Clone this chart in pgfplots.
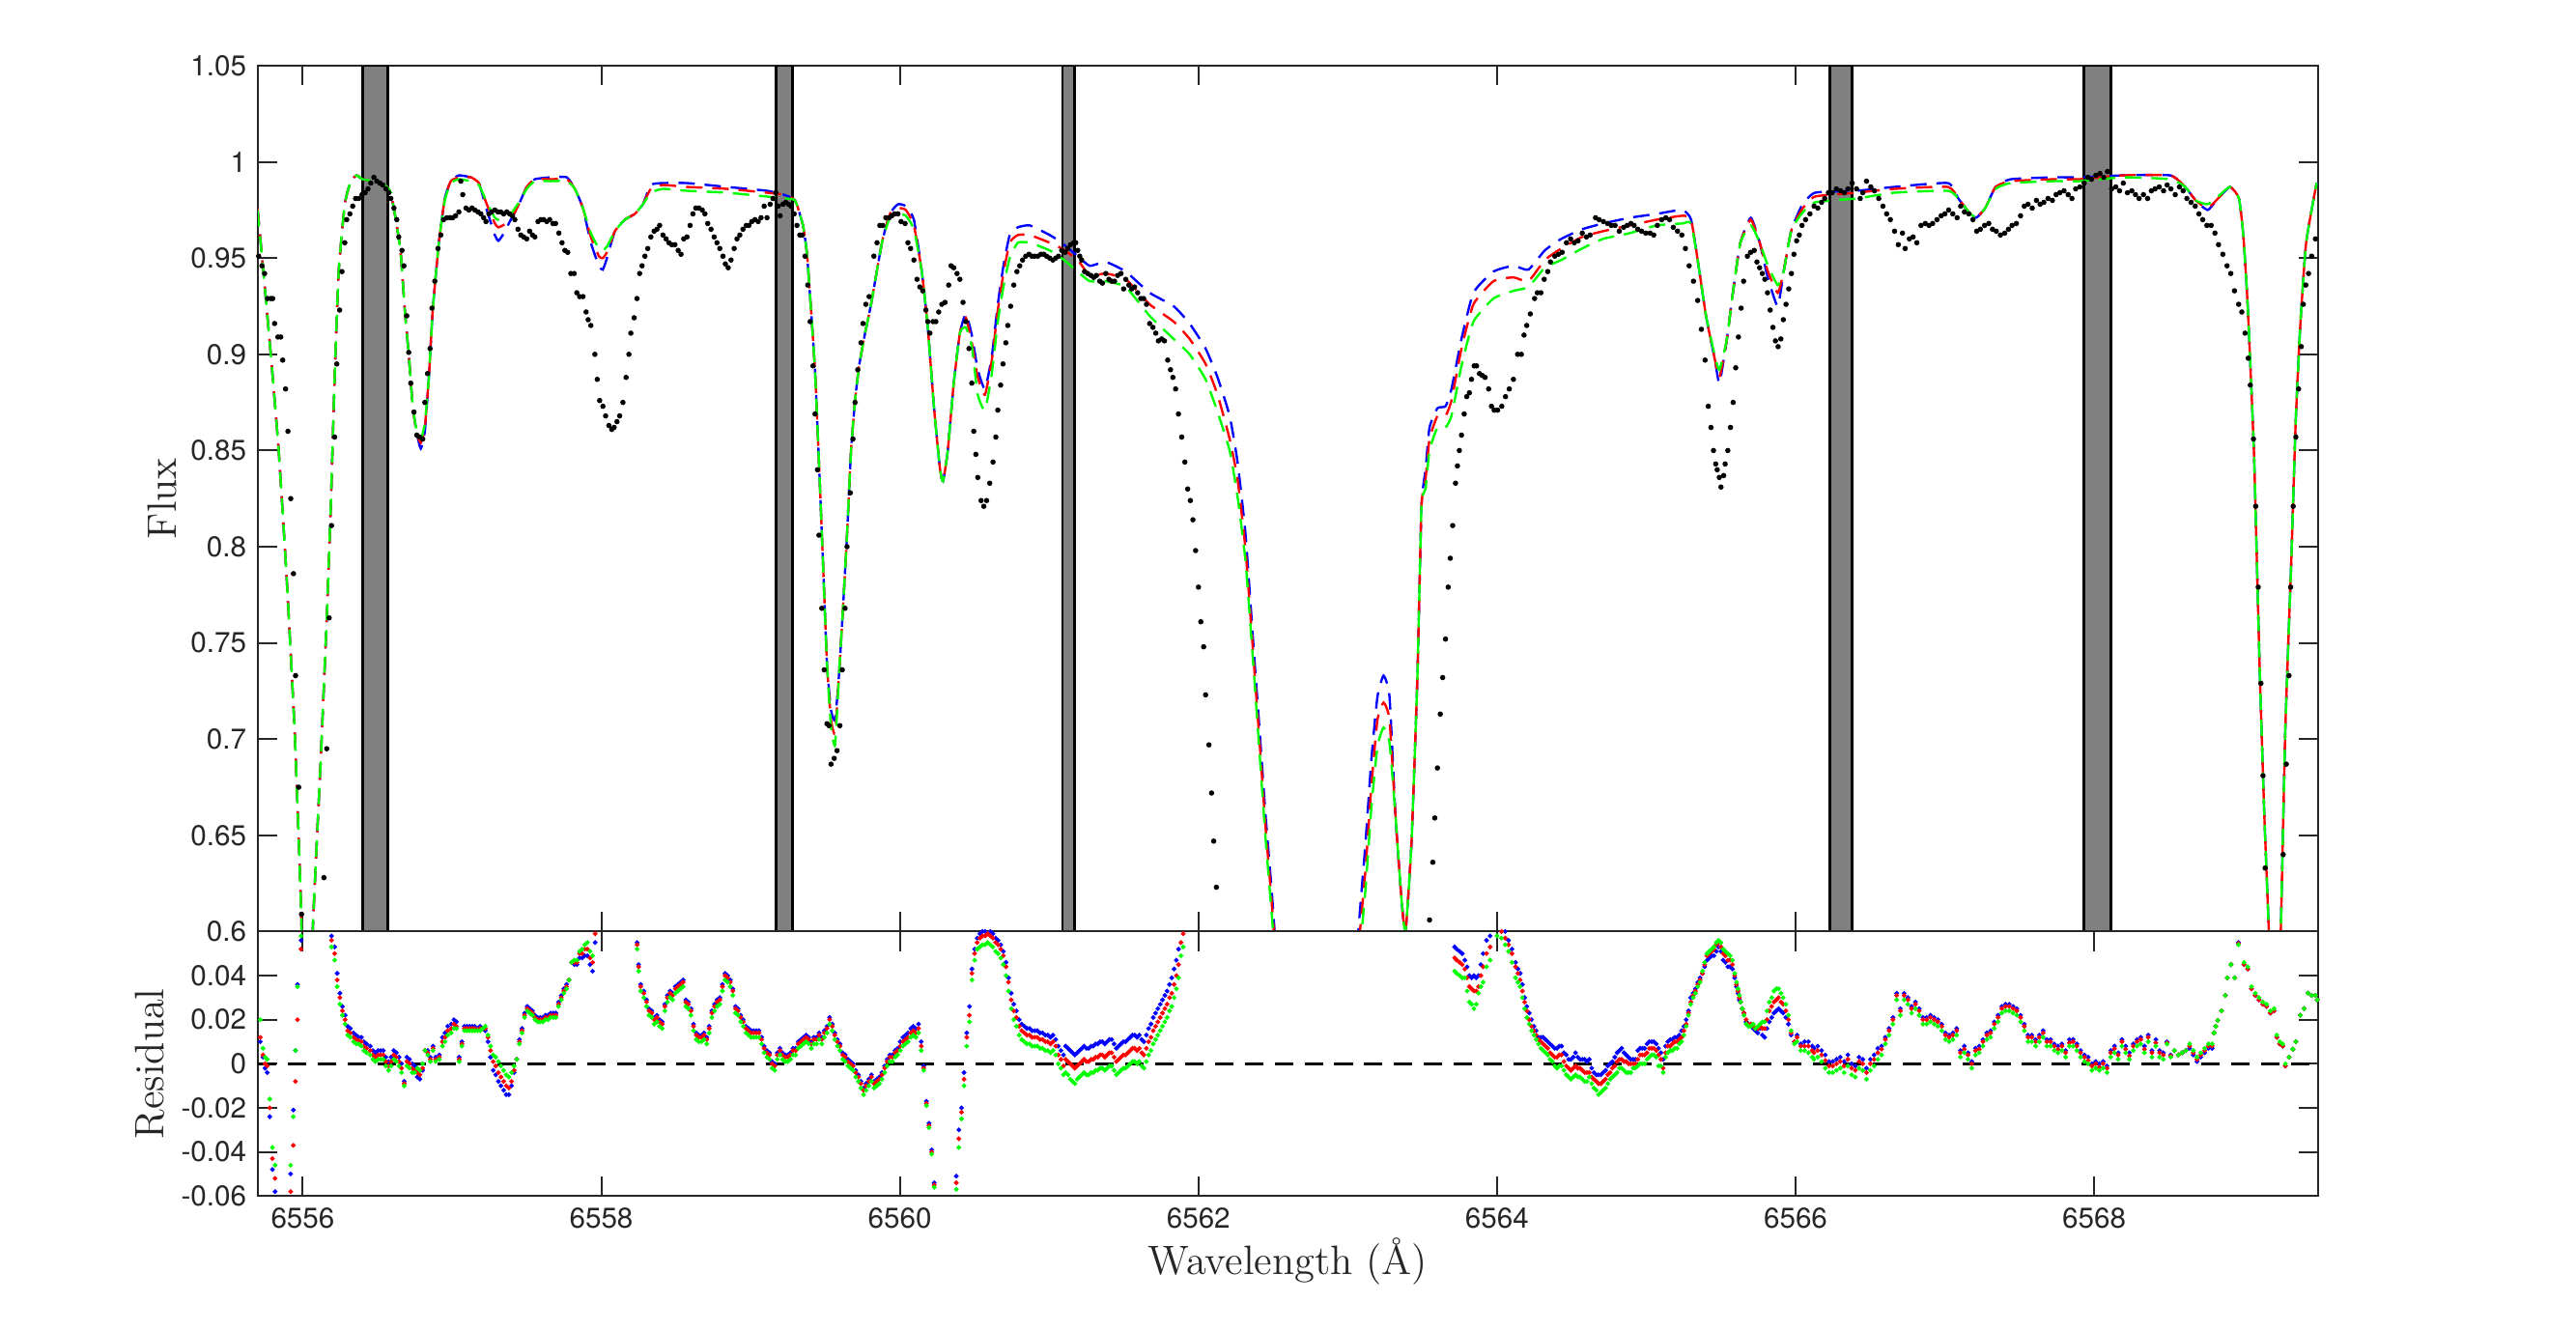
\documentclass[border=0pt]{standalone}
\usepackage{fontspec}
\newfontfamily\helv{TeX Gyre Heros}
\usepackage{pgfplots}
\usepackage{pgfplotstable}
\pgfplotsset{compat=1.18}
\definecolor{axgray}{rgb}{0.15,0.15,0.15}
\definecolor{bandgray}{rgb}{0.5,0.5,0.5}
\definecolor{mgreen}{rgb}{0,1,0}
\definecolor{mblue}{rgb}{0,0,1}
\definecolor{mred}{rgb}{1,0,0}

\pgfplotstableread{
x b r g
6555.697 0.976 0.976 0.975
6555.740 0.940 0.940 0.940
6555.786 0.900 0.900 0.900
6555.839 0.850 0.850 0.850
6555.893 0.783 0.783 0.783
6555.946 0.704 0.704 0.704
6555.987 0.617 0.617 0.617
6556.030 0.500 0.500 0.500
6556.067 0.600 0.600 0.600
6556.121 0.690 0.690 0.690
6556.161 0.763 0.763 0.763
6556.188 0.821 0.821 0.821
6556.214 0.888 0.888 0.888
6556.241 0.943 0.943 0.943
6556.282 0.978 0.978 0.978
6556.322 0.990 0.990 0.990
6556.362 0.993 0.993 0.993
6556.400 0.991 0.991 0.991
6556.480 0.990 0.990 0.990
6556.550 0.988 0.988 0.988
6556.590 0.984 0.984 0.984
6556.630 0.967 0.967 0.967
6556.657 0.952 0.952 0.952
6556.684 0.923 0.923 0.923
6556.710 0.900 0.900 0.900
6556.737 0.873 0.873 0.873
6556.764 0.859 0.859 0.860
6556.791 0.851 0.854 0.856
6556.818 0.860 0.862 0.864
6556.845 0.888 0.888 0.888
6556.871 0.923 0.923 0.923
6556.912 0.958 0.958 0.958
6556.952 0.981 0.981 0.980
6556.992 0.990 0.990 0.989
6557.046 0.993 0.992 0.991
6557.126 0.992 0.992 0.990
6557.180 0.989 0.989 0.988
6557.233 0.975 0.978 0.979
6557.287 0.962 0.968 0.971
6557.310 0.959 0.966 0.970
6557.340 0.962 0.967 0.971
6557.394 0.970 0.970 0.973
6557.448 0.978 0.978 0.979
6557.501 0.987 0.987 0.986
6557.555 0.991 0.991 0.990
6557.662 0.992 0.991 0.990
6557.769 0.992 0.991 0.990
6557.823 0.986 0.986 0.986
6557.877 0.976 0.976 0.976
6557.930 0.958 0.961 0.963
6557.984 0.946 0.951 0.955
6558.010 0.944 0.950 0.954
6558.038 0.950 0.953 0.956
6558.091 0.964 0.964 0.964
6558.158 0.970 0.970 0.970
6558.225 0.973 0.973 0.973
6558.279 0.978 0.978 0.978
6558.332 0.988 0.986 0.984
6558.413 0.989 0.988 0.986
6558.574 0.989 0.987 0.985
6558.842 0.987 0.986 0.984
6559.110 0.985 0.984 0.982
6559.220 0.983 0.983 0.981
6559.298 0.980 0.980 0.980
6559.351 0.967 0.967 0.967
6559.378 0.952 0.952 0.952
6559.405 0.923 0.923 0.923
6559.432 0.891 0.891 0.891
6559.458 0.844 0.844 0.844
6559.485 0.792 0.792 0.792
6559.512 0.739 0.739 0.739
6559.539 0.715 0.710 0.706
6559.566 0.710 0.703 0.697
6559.592 0.733 0.733 0.733
6559.619 0.768 0.768 0.768
6559.646 0.806 0.806 0.806
6559.673 0.850 0.850 0.850
6559.700 0.876 0.876 0.876
6559.727 0.894 0.894 0.894
6559.767 0.911 0.911 0.911
6559.807 0.926 0.926 0.926
6559.880 0.958 0.958 0.958
6559.933 0.973 0.973 0.971
6559.987 0.978 0.976 0.973
6560.040 0.977 0.975 0.972
6560.094 0.970 0.967 0.965
6560.147 0.943 0.943 0.943
6560.187 0.914 0.914 0.914
6560.228 0.873 0.873 0.873
6560.268 0.841 0.841 0.841
6560.289 0.834 0.834 0.834
6560.321 0.850 0.850 0.850
6560.361 0.885 0.885 0.885
6560.402 0.911 0.911 0.911
6560.442 0.921 0.919 0.914
6560.482 0.910 0.906 0.904
6560.522 0.892 0.888 0.879
6560.570 0.882 0.879 0.871
6560.616 0.899 0.897 0.890
6560.656 0.926 0.923 0.917
6560.696 0.947 0.943 0.936
6560.736 0.962 0.958 0.950
6560.790 0.966 0.962 0.958
6560.870 0.967 0.962 0.958
6561.004 0.962 0.958 0.954
6561.084 0.958 0.955 0.950
6561.191 0.951 0.949 0.943
6561.272 0.946 0.941 0.938
6561.379 0.948 0.942 0.938
6561.513 0.943 0.939 0.935
6561.673 0.932 0.926 0.920
6561.834 0.925 0.917 0.908
6561.941 0.916 0.908 0.900
6562.048 0.903 0.895 0.887
6562.128 0.888 0.879 0.870
6562.209 0.868 0.856 0.850
6562.262 0.844 0.835 0.826
6562.316 0.806 0.798 0.792
6562.369 0.748 0.742 0.737
6562.410 0.704 0.698 0.692
6562.450 0.660 0.654 0.648
6562.490 0.622 0.616 0.610
6562.550 0.560 0.555 0.550
6562.700 0.450 0.450 0.450
6562.900 0.420 0.420 0.420
6563.040 0.560 0.550 0.540
6563.071 0.600 0.590 0.580
6563.119 0.646 0.632 0.622
6563.159 0.690 0.676 0.665
6563.199 0.722 0.710 0.696
6563.240 0.733 0.719 0.706
6563.280 0.722 0.710 0.698
6563.320 0.660 0.660 0.660
6563.360 0.617 0.617 0.617
6563.387 0.600 0.600 0.600
6563.427 0.646 0.646 0.646
6563.467 0.733 0.733 0.733
6563.494 0.821 0.821 0.821
6563.521 0.840 0.835 0.830
6563.548 0.862 0.856 0.850
6563.601 0.872 0.868 0.862
6563.655 0.873 0.868 0.862
6563.695 0.882 0.876 0.868
6563.762 0.908 0.903 0.894
6563.842 0.932 0.926 0.917
6563.976 0.943 0.938 0.929
6564.110 0.946 0.940 0.933
6564.210 0.944 0.938 0.935
6564.320 0.954 0.949 0.945
6564.430 0.960 0.955 0.949
6564.570 0.965 0.961 0.955
6564.710 0.968 0.964 0.960
6564.890 0.971 0.967 0.963
6565.070 0.973 0.970 0.967
6565.240 0.975 0.972 0.968
6565.300 0.970 0.970 0.968
6565.350 0.946 0.946 0.946
6565.400 0.920 0.920 0.920
6565.460 0.897 0.897 0.899
6565.490 0.885 0.888 0.892
6565.540 0.908 0.908 0.908
6565.580 0.932 0.932 0.932
6565.630 0.958 0.958 0.958
6565.700 0.971 0.970 0.967
6565.760 0.958 0.958 0.958
6565.810 0.941 0.944 0.947
6565.880 0.925 0.932 0.936
6565.920 0.943 0.943 0.943
6565.970 0.964 0.964 0.964
6566.040 0.977 0.975 0.973
6566.130 0.984 0.982 0.979
6566.410 0.985 0.984 0.981
6566.660 0.987 0.986 0.984
6567.020 0.989 0.987 0.985
6567.090 0.981 0.981 0.981
6567.160 0.974 0.974 0.974
6567.210 0.971 0.971 0.971
6567.270 0.976 0.976 0.976
6567.340 0.987 0.987 0.986
6567.440 0.991 0.990 0.989
6567.730 0.992 0.991 0.990
6567.900 0.992 0.991 0.990
6568.190 0.993 0.993 0.992
6568.510 0.993 0.993 0.991
6568.610 0.987 0.987 0.987
6568.680 0.980 0.980 0.980
6568.760 0.975 0.976 0.978
6568.830 0.981 0.981 0.982
6568.910 0.987 0.987 0.987
6568.970 0.981 0.981 0.981
6569.000 0.961 0.961 0.961
6569.030 0.923 0.923 0.923
6569.070 0.850 0.850 0.850
6569.090 0.792 0.792 0.792
6569.110 0.733 0.733 0.733
6569.140 0.660 0.660 0.660
6569.170 0.600 0.600 0.600
6569.210 0.500 0.500 0.500
6569.250 0.600 0.600 0.600
6569.280 0.704 0.704 0.704
6569.320 0.792 0.792 0.792
6569.350 0.865 0.865 0.865
6569.380 0.914 0.914 0.914
6569.420 0.958 0.958 0.958
6569.490 0.989 0.989 0.989
}\models

\pgfplotstableread{
x y
6555.705 0.951
6555.727 0.946
6555.745 0.942
6555.764 0.929
6555.786 0.929
6555.799 0.929
6555.812 0.916
6555.834 0.909
6555.853 0.909
6555.866 0.897
6555.885 0.882
6555.901 0.860
6555.920 0.825
6555.938 0.786
6555.952 0.733
6555.973 0.675
6555.992 0.609
6556.142 0.628
6556.161 0.695
6556.177 0.763
6556.193 0.811
6556.214 0.857
6556.228 0.895
6556.247 0.923
6556.263 0.943
6556.282 0.958
6556.295 0.970
6556.316 0.973
6556.335 0.977
6556.354 0.981
6556.375 0.981
6556.397 0.983
6556.418 0.984
6556.437 0.986
6556.456 0.989
6556.477 0.992
6556.496 0.990
6556.517 0.989
6556.536 0.988
6556.558 0.986
6556.576 0.984
6556.590 0.981
6556.611 0.976
6556.630 0.970
6556.643 0.961
6556.665 0.954
6556.678 0.946
6556.697 0.920
6556.710 0.901
6556.724 0.885
6556.745 0.870
6556.764 0.858
6556.783 0.857
6556.804 0.856
6556.818 0.875
6556.836 0.890
6556.853 0.903
6556.866 0.924
6556.885 0.938
6556.906 0.955
6556.925 0.962
6556.944 0.970
6556.965 0.971
6556.987 0.971
6557.005 0.971
6557.024 0.972
6557.046 0.974
6557.059 0.990
6557.072 0.983
6557.094 0.976
6557.113 0.975
6557.134 0.976
6557.153 0.975
6557.174 0.974
6557.193 0.973
6557.212 0.971
6557.228 0.969
6557.247 0.973
6557.265 0.974
6557.287 0.975
6557.308 0.974
6557.327 0.974
6557.346 0.973
6557.367 0.974
6557.386 0.973
6557.405 0.972
6557.421 0.970
6557.442 0.965
6557.461 0.962
6557.480 0.961
6557.501 0.960
6557.520 0.964
6557.539 0.962
6557.555 0.961
6557.576 0.969
6557.595 0.970
6557.614 0.970
6557.635 0.969
6557.654 0.970
6557.676 0.968
6557.694 0.968
6557.716 0.963
6557.737 0.958
6557.756 0.954
6557.775 0.953
6557.796 0.942
6557.818 0.942
6557.836 0.932
6557.855 0.930
6557.877 0.930
6557.898 0.922
6557.912 0.918
6557.930 0.915
6557.957 0.900
6557.973 0.887
6557.989 0.876
6558.011 0.873
6558.029 0.868
6558.051 0.863
6558.070 0.861
6558.086 0.862
6558.105 0.865
6558.123 0.868
6558.145 0.875
6558.166 0.888
6558.185 0.900
6558.198 0.911
6558.220 0.919
6558.239 0.929
6558.257 0.942
6558.273 0.946
6558.292 0.951
6558.311 0.955
6558.332 0.961
6558.354 0.964
6558.373 0.965
6558.391 0.967
6558.413 0.962
6558.434 0.960
6558.453 0.958
6558.472 0.957
6558.493 0.957
6558.515 0.954
6558.534 0.952
6558.552 0.960
6558.574 0.961
6558.595 0.967
6558.614 0.973
6558.633 0.976
6558.654 0.976
6558.676 0.975
6558.694 0.973
6558.713 0.968
6558.735 0.965
6558.756 0.961
6558.775 0.958
6558.794 0.955
6558.815 0.951
6558.831 0.947
6558.850 0.945
6558.869 0.949
6558.890 0.955
6558.909 0.960
6558.928 0.962
6558.949 0.965
6558.971 0.967
6558.989 0.967
6559.008 0.969
6559.029 0.970
6559.051 0.969
6559.070 0.971
6559.091 0.977
6559.110 0.971
6559.131 0.978
6559.150 0.981
6559.169 0.984
6559.185 0.977
6559.198 0.972
6559.217 0.978
6559.236 0.979
6559.255 0.978
6559.271 0.977
6559.292 0.973
6559.311 0.967
6559.330 0.962
6559.346 0.962
6559.365 0.951
6559.383 0.936
6559.399 0.917
6559.418 0.894
6559.432 0.869
6559.448 0.840
6559.458 0.806
6559.477 0.768
6559.493 0.736
6559.512 0.708
6559.525 0.707
6559.539 0.687
6559.560 0.690
6559.579 0.694
6559.598 0.707
6559.614 0.736
6559.633 0.768
6559.646 0.800
6559.668 0.828
6559.686 0.856
6559.700 0.875
6559.718 0.892
6559.740 0.906
6559.753 0.916
6559.772 0.926
6559.794 0.930
6559.826 0.951
6559.847 0.958
6559.866 0.967
6559.885 0.967
6559.906 0.971
6559.928 0.971
6559.946 0.972
6559.965 0.973
6559.987 0.973
6560.008 0.969
6560.035 0.968
6560.054 0.958
6560.072 0.955
6560.094 0.949
6560.115 0.939
6560.134 0.935
6560.153 0.933
6560.174 0.923
6560.187 0.917
6560.201 0.911
6560.222 0.917
6560.241 0.917
6560.260 0.922
6560.281 0.926
6560.303 0.927
6560.327 0.936
6560.343 0.946
6560.361 0.945
6560.383 0.942
6560.402 0.939
6560.423 0.927
6560.442 0.917
6560.463 0.903
6560.482 0.885
6560.495 0.860
6560.509 0.848
6560.522 0.836
6560.544 0.824
6560.562 0.821
6560.581 0.824
6560.602 0.833
6560.624 0.844
6560.643 0.857
6560.656 0.871
6560.675 0.884
6560.691 0.895
6560.710 0.906
6560.723 0.915
6560.742 0.925
6560.763 0.936
6560.784 0.943
6560.803 0.946
6560.822 0.949
6560.843 0.951
6560.865 0.952
6560.884 0.951
6560.902 0.951
6560.924 0.951
6560.945 0.952
6560.964 0.952
6560.983 0.951
6561.004 0.950
6561.025 0.949
6561.044 0.950
6561.063 0.951
6561.084 0.954
6561.106 0.953
6561.124 0.955
6561.143 0.957
6561.165 0.958
6561.178 0.958
6561.191 0.954
6561.205 0.951
6561.218 0.949
6561.237 0.943
6561.258 0.942
6561.280 0.941
6561.299 0.940
6561.317 0.941
6561.339 0.938
6561.357 0.937
6561.379 0.942
6561.400 0.939
6561.419 0.938
6561.438 0.938
6561.459 0.941
6561.481 0.942
6561.499 0.934
6561.513 0.939
6561.534 0.936
6561.553 0.934
6561.572 0.935
6561.593 0.932
6561.614 0.929
6561.633 0.929
6561.652 0.926
6561.673 0.916
6561.695 0.914
6561.714 0.911
6561.732 0.907
6561.754 0.908
6561.772 0.907
6561.794 0.897
6561.813 0.892
6561.829 0.888
6561.847 0.882
6561.866 0.869
6561.888 0.857
6561.909 0.844
6561.928 0.830
6561.946 0.824
6561.963 0.814
6561.981 0.798
6562.000 0.779
6562.016 0.761
6562.035 0.748
6562.048 0.723
6562.070 0.697
6562.088 0.672
6562.102 0.647
6562.120 0.623
6563.548 0.606
6563.570 0.636
6563.583 0.659
6563.601 0.685
6563.620 0.713
6563.636 0.732
6563.655 0.752
6563.673 0.779
6563.687 0.794
6563.703 0.811
6563.722 0.833
6563.735 0.842
6563.748 0.850
6563.762 0.858
6563.780 0.869
6563.797 0.878
6563.815 0.880
6563.829 0.887
6563.847 0.894
6563.863 0.894
6563.882 0.890
6563.901 0.889
6563.920 0.888
6563.944 0.882
6563.963 0.873
6563.981 0.871
6564.004 0.871
6564.032 0.873
6564.057 0.878
6564.082 0.882
6564.110 0.887
6564.138 0.900
6564.163 0.900
6564.181 0.910
6564.199 0.915
6564.223 0.921
6564.252 0.929
6564.270 0.932
6564.294 0.932
6564.316 0.939
6564.340 0.943
6564.358 0.948
6564.387 0.951
6564.411 0.952
6564.436 0.953
6564.465 0.958
6564.493 0.960
6564.518 0.958
6564.543 0.959
6564.571 0.963
6564.599 0.961
6564.624 0.962
6564.660 0.971
6564.684 0.970
6564.713 0.969
6564.741 0.968
6564.766 0.967
6564.791 0.967
6564.819 0.964
6564.848 0.966
6564.872 0.967
6564.897 0.968
6564.918 0.967
6564.943 0.965
6564.968 0.964
6564.996 0.963
6565.025 0.963
6565.050 0.962
6565.074 0.967
6565.103 0.970
6565.131 0.971
6565.156 0.970
6565.181 0.966
6565.209 0.964
6565.238 0.962
6565.262 0.955
6565.287 0.946
6565.316 0.938
6565.344 0.928
6565.369 0.913
6565.394 0.897
6565.415 0.873
6565.433 0.862
6565.450 0.850
6565.465 0.843
6565.475 0.840
6565.489 0.836
6565.500 0.831
6565.518 0.837
6565.528 0.843
6565.546 0.850
6565.564 0.862
6565.582 0.875
6565.599 0.893
6565.617 0.909
6565.635 0.924
6565.652 0.938
6565.677 0.951
6565.699 0.953
6565.723 0.954
6565.741 0.948
6565.759 0.945
6565.777 0.942
6565.794 0.939
6565.812 0.932
6565.830 0.923
6565.848 0.914
6565.865 0.907
6565.883 0.904
6565.901 0.908
6565.918 0.918
6565.936 0.926
6565.954 0.934
6565.972 0.942
6565.989 0.952
6566.007 0.959
6566.025 0.962
6566.043 0.967
6566.067 0.970
6566.096 0.973
6566.124 0.977
6566.149 0.976
6566.174 0.979
6566.195 0.981
6566.220 0.984
6566.245 0.984
6566.273 0.986
6566.301 0.985
6566.326 0.984
6566.351 0.986
6566.379 0.989
6566.408 0.986
6566.433 0.981
6566.450 0.984
6566.475 0.990
6566.504 0.987
6566.528 0.985
6566.557 0.981
6566.585 0.977
6566.610 0.973
6566.635 0.970
6566.663 0.964
6566.688 0.957
6566.716 0.963
6566.734 0.955
6566.762 0.960
6566.787 0.961
6566.812 0.958
6566.840 0.967
6566.869 0.968
6566.894 0.967
6566.918 0.968
6566.947 0.970
6566.975 0.972
6567.000 0.973
6567.025 0.975
6567.053 0.973
6567.082 0.971
6567.106 0.977
6567.131 0.974
6567.160 0.973
6567.188 0.970
6567.213 0.964
6567.238 0.965
6567.266 0.967
6567.294 0.968
6567.319 0.965
6567.344 0.964
6567.372 0.962
6567.401 0.963
6567.426 0.965
6567.450 0.967
6567.479 0.968
6567.507 0.972
6567.532 0.977
6567.557 0.978
6567.585 0.976
6567.613 0.980
6567.638 0.978
6567.663 0.979
6567.691 0.981
6567.720 0.980
6567.745 0.983
6567.770 0.984
6567.798 0.985
6567.826 0.983
6567.851 0.981
6567.876 0.986
6567.904 0.987
6567.933 0.989
6567.957 0.992
6567.982 0.991
6568.011 0.993
6568.039 0.994
6568.064 0.992
6568.089 0.995
6568.117 0.986
6568.145 0.987
6568.170 0.985
6568.195 0.989
6568.223 0.984
6568.252 0.985
6568.277 0.983
6568.301 0.981
6568.330 0.983
6568.358 0.981
6568.383 0.985
6568.408 0.986
6568.436 0.987
6568.465 0.985
6568.489 0.988
6568.514 0.986
6568.543 0.983
6568.571 0.987
6568.596 0.985
6568.621 0.981
6568.649 0.979
6568.677 0.977
6568.702 0.973
6568.727 0.970
6568.755 0.967
6568.784 0.967
6568.809 0.963
6568.833 0.957
6568.862 0.952
6568.890 0.946
6568.915 0.942
6568.940 0.933
6568.968 0.926
6568.989 0.922
6569.011 0.911
6569.032 0.898
6569.046 0.884
6569.067 0.856
6569.082 0.821
6569.099 0.779
6569.117 0.729
6569.131 0.681
6569.145 0.633
6569.266 0.640
6569.287 0.687
6569.305 0.733
6569.316 0.779
6569.333 0.821
6569.351 0.857
6569.369 0.882
6569.387 0.904
6569.401 0.926
6569.418 0.936
6569.436 0.942
6569.457 0.951
6569.482 0.960
}\obs

\pgfplotstableread{
x r b g
6555.716 0.012 0.010 0.020
6555.734 0.004 0.003 0.007
6555.748 0.000 -0.002 0.003
6555.762 -0.001 -0.004 0.002
6555.779 -0.020 -0.024 -0.016
6555.797 -0.043 -0.048 -0.038
6555.815 -0.052 -0.058 -0.046
6555.919 -0.058 -0.050 -0.046
6555.937 -0.037 -0.021 -0.024
6555.951 -0.008 0.006 0.006
6555.965 0.020 0.036 0.035
6555.989 0.052 0.056 0.058
6556.193 0.056 0.058 0.053
6556.214 0.050 0.053 0.047
6556.231 0.038 0.041 0.035
6556.249 0.030 0.032 0.027
6556.266 0.024 0.026 0.022
6556.284 0.020 0.022 0.018
6556.301 0.015 0.017 0.013
6556.319 0.014 0.016 0.012
6556.340 0.012 0.014 0.010
6556.358 0.011 0.013 0.009
6556.375 0.0105 0.012 0.009
6556.393 0.010 0.012 0.008
6556.410 0.008 0.010 0.006
6556.428 0.007 0.009 0.005
6556.452 0.006 0.008 0.004
6556.470 0.004 0.006 0.002
6556.487 0.003 0.005 0.001
6556.505 0.004 0.006 0.002
6556.522 0.004 0.006 0.002
6556.540 0.004 0.006 0.002
6556.557 0.001 0.003 -0.001
6556.575 -0.001 0.001 -0.003
6556.592 0.001 0.003 -0.001
6556.610 0.004 0.006 0.002
6556.627 0.003 0.005 0.001
6556.645 0.001 0.003 -0.001
6556.662 -0.002 0.000 -0.004
6556.680 -0.009 -0.008 -0.010
6556.698 0.001 0.003 -0.001
6556.715 0.000 0.002 -0.002
6556.733 -0.002 0.000 -0.004
6556.750 -0.003 -0.001 -0.004
6556.768 -0.004 -0.006 -0.002
6556.785 -0.005 -0.007 -0.003
6556.803 -0.002 -0.003 0.000
6556.820 0.006 0.006 0.006
6556.838 0.005 0.006 0.004
6556.855 0.002 0.003 0.001
6556.873 0.007 0.008 0.006
6556.890 0.002 0.003 0.001
6556.915 0.003 0.004 0.002
6556.936 0.010 0.012 0.008
6556.953 0.012 0.014 0.010
6556.971 0.015 0.017 0.013
6556.995 0.016 0.018 0.014
6557.013 0.018 0.020 0.016
6557.030 0.017 0.019 0.016
6557.048 0.002 0.003 0.001
6557.066 0.009 0.010 0.008
6557.083 0.016 0.017 0.015
6557.101 0.016 0.017 0.015
6557.118 0.016 0.017 0.015
6557.136 0.016 0.017 0.015
6557.153 0.016 0.017 0.015
6557.171 0.0155 0.016 0.015
6557.188 0.016 0.017 0.015
6557.206 0.016 0.016 0.016
6557.223 0.016 0.015 0.017
6557.241 0.012 0.010 0.013
6557.258 0.006 0.003 0.008
6557.276 0.001 -0.003 0.004
6557.293 -0.001 -0.005 0.003
6557.311 -0.004 -0.008 0.001
6557.328 -0.006 -0.010 -0.001
6557.346 -0.008 -0.012 -0.003
6557.363 -0.010 -0.014 -0.005
6557.381 -0.011 -0.014 -0.006
6557.399 -0.008 -0.010 -0.004
6557.416 -0.003 -0.004 -0.001
6557.434 0.002 0.002 0.002
6557.451 0.010 0.011 0.009
6557.469 0.015 0.016 0.014
6557.486 0.022 0.023 0.021
6557.504 0.025 0.026 0.024
6557.521 0.024 0.025 0.023
6557.539 0.023 0.024 0.022
6557.556 0.021 0.022 0.020
6557.574 0.020 0.021 0.019
6557.591 0.020 0.021 0.019
6557.609 0.020 0.021 0.019
6557.626 0.021 0.022 0.020
6557.644 0.021 0.022 0.020
6557.661 0.022 0.023 0.021
6557.679 0.022 0.023 0.021
6557.696 0.022 0.023 0.021
6557.714 0.027 0.028 0.026
6557.732 0.030 0.031 0.029
6557.749 0.033 0.034 0.032
6557.767 0.035 0.036 0.034
6557.784 0.038 0.038 0.038
6557.802 0.046 0.046 0.046
6557.819 0.046 0.045 0.047
6557.837 0.046 0.045 0.047
6557.854 0.050 0.048 0.051
6557.872 0.050 0.048 0.052
6557.889 0.052 0.049 0.054
6557.907 0.052 0.049 0.055
6557.925 0.048 0.045 0.051
6557.942 0.046 0.042 0.049
6557.959 0.059 0.055 0.062
6558.240 0.054 0.055 0.052
6558.250 0.044 0.045 0.042
6558.264 0.035 0.036 0.033
6558.285 0.032 0.033 0.030
6558.303 0.028 0.029 0.026
6558.320 0.024 0.025 0.022
6558.338 0.023 0.024 0.021
6558.355 0.020 0.021 0.018
6558.373 0.021 0.022 0.019
6558.390 0.019 0.020 0.017
6558.408 0.018 0.019 0.016
6558.426 0.026 0.027 0.024
6558.443 0.030 0.031 0.028
6558.461 0.032 0.033 0.030
6558.478 0.031 0.032 0.029
6558.496 0.034 0.035 0.032
6558.513 0.035 0.036 0.033
6558.531 0.036 0.037 0.034
6558.548 0.037 0.038 0.035
6558.566 0.028 0.029 0.026
6558.583 0.027 0.028 0.025
6558.601 0.024 0.025 0.022
6558.618 0.017 0.018 0.015
6558.636 0.013 0.014 0.011
6558.653 0.012 0.013 0.010
6558.671 0.012 0.013 0.010
6558.688 0.013 0.014 0.011
6558.706 0.011 0.012 0.009
6558.723 0.016 0.017 0.014
6558.741 0.023 0.024 0.021
6558.759 0.026 0.027 0.024
6558.776 0.028 0.029 0.026
6558.794 0.029 0.030 0.027
6558.811 0.035 0.036 0.033
6558.829 0.040 0.041 0.038
6558.846 0.039 0.040 0.037
6558.864 0.037 0.038 0.035
6558.881 0.033 0.034 0.031
6558.899 0.025 0.026 0.023
6558.916 0.024 0.025 0.022
6558.934 0.021 0.022 0.019
6558.951 0.019 0.020 0.017
6558.969 0.016 0.017 0.014
6558.986 0.015 0.016 0.013
6559.004 0.014 0.015 0.012
6559.021 0.014 0.015 0.012
6559.039 0.014 0.015 0.012
6559.056 0.014 0.015 0.012
6559.074 0.011 0.012 0.009
6559.091 0.007 0.008 0.005
6559.109 0.005 0.006 0.003
6559.127 0.004 0.005 0.002
6559.144 0.000 0.001 -0.002
6559.162 -0.001 0.000 -0.003
6559.179 0.004 0.005 0.002
6559.197 0.006 0.007 0.004
6559.214 0.004 0.005 0.002
6559.232 0.003 0.004 0.001
6559.249 0.003 0.004 0.001
6559.267 0.004 0.005 0.002
6559.284 0.006 0.007 0.004
6559.302 0.006 0.007 0.004
6559.319 0.009 0.010 0.007
6559.337 0.010 0.011 0.008
6559.354 0.011 0.012 0.009
6559.372 0.012 0.013 0.010
6559.389 0.011 0.012 0.009
6559.407 0.009 0.010 0.007
6559.424 0.011 0.012 0.009
6559.442 0.011 0.012 0.009
6559.459 0.013 0.014 0.011
6559.477 0.011 0.012 0.009
6559.494 0.014 0.015 0.012
6559.512 0.016 0.017 0.014
6559.529 0.020 0.021 0.018
6559.547 0.017 0.018 0.015
6559.564 0.013 0.014 0.011
6559.582 0.010 0.011 0.008
6559.599 0.008 0.009 0.006
6559.617 0.004 0.005 0.002
6559.634 0.003 0.004 0.001
6559.652 0.001 0.002 -0.001
6559.669 0.000 0.001 -0.002
6559.687 -0.001 0.000 -0.003
6559.704 -0.004 -0.003 -0.006
6559.722 -0.006 -0.005 -0.008
6559.739 -0.009 -0.008 -0.011
6559.757 -0.012 -0.011 -0.014
6559.774 -0.010 -0.009 -0.012
6559.792 -0.008 -0.007 -0.010
6559.810 -0.006 -0.005 -0.008
6559.827 -0.009 -0.008 -0.011
6559.845 -0.008 -0.007 -0.010
6559.863 -0.007 -0.006 -0.009
6559.880 -0.005 -0.004 -0.007
6559.898 -0.002 -0.001 -0.004
6559.915 0.001 0.002 -0.001
6559.933 0.003 0.004 0.001
6559.950 0.003 0.004 0.001
6559.968 0.005 0.006 0.003
6559.985 0.006 0.007 0.004
6560.003 0.008 0.010 0.006
6560.020 0.010 0.012 0.008
6560.038 0.011 0.013 0.009
6560.055 0.012 0.014 0.010
6560.073 0.014 0.016 0.012
6560.090 0.015 0.017 0.013
6560.108 0.014 0.016 0.012
6560.125 0.016 0.018 0.014
6560.143 0.008 0.010 0.006
6560.160 -0.002 -0.001 -0.003
6560.178 -0.018 -0.017 -0.019
6560.195 -0.028 -0.027 -0.029
6560.213 -0.040 -0.039 -0.041
6560.230 -0.055 -0.054 -0.056
6560.378 -0.054 -0.051 -0.057
6560.395 -0.034 -0.030 -0.038
6560.413 -0.022 -0.020 -0.025
6560.430 -0.007 -0.004 -0.010
6560.448 0.012 0.014 0.008
6560.466 0.022 0.026 0.019
6560.483 0.041 0.043 0.038
6560.501 0.050 0.052 0.047
6560.518 0.055 0.057 0.052
6560.536 0.057 0.059 0.053
6560.553 0.058 0.060 0.054
6560.571 0.058 0.060 0.054
6560.588 0.059 0.061 0.055
6560.606 0.058 0.060 0.054
6560.623 0.057 0.059 0.053
6560.641 0.055 0.057 0.051
6560.658 0.054 0.056 0.050
6560.676 0.052 0.054 0.048
6560.693 0.049 0.051 0.045
6560.711 0.044 0.046 0.040
6560.728 0.037 0.039 0.033
6560.746 0.029 0.032 0.025
6560.763 0.024 0.027 0.020
6560.781 0.021 0.024 0.017
6560.799 0.017 0.020 0.013
6560.816 0.015 0.018 0.011
6560.834 0.014 0.017 0.010
6560.851 0.013 0.016 0.009
6560.869 0.013 0.016 0.009
6560.886 0.012 0.015 0.008
6560.904 0.012 0.015 0.008
6560.921 0.012 0.015 0.008
6560.939 0.011 0.014 0.007
6560.956 0.011 0.014 0.007
6560.974 0.010 0.013 0.006
6560.991 0.010 0.013 0.006
6561.009 0.009 0.012 0.005
6561.026 0.010 0.013 0.006
6561.044 0.008 0.011 0.004
6561.061 0.004 0.008 0.000
6561.079 0.002 0.006 -0.002
6561.096 -0.001 0.004 -0.005
6561.110 0.002 0.008 -0.004
6561.126 0.001 0.007 -0.005
6561.141 0.000 0.006 -0.007
6561.157 -0.001 0.005 -0.008
6561.172 -0.002 0.004 -0.009
6561.188 -0.001 0.005 -0.007
6561.203 0.000 0.006 -0.006
6561.219 0.001 0.007 -0.005
6561.234 0.002 0.008 -0.004
6561.250 0.001 0.007 -0.005
6561.265 0.001 0.007 -0.005
6561.281 0.002 0.008 -0.004
6561.296 0.002 0.008 -0.004
6561.311 0.003 0.009 -0.003
6561.326 0.003 0.009 -0.003
6561.342 0.004 0.010 -0.002
6561.357 0.004 0.010 -0.002
6561.373 0.003 0.009 -0.003
6561.388 0.004 0.010 -0.002
6561.404 0.005 0.011 -0.001
6561.419 0.005 0.011 -0.001
6561.435 0.003 0.009 -0.003
6561.450 0.001 0.007 -0.005
6561.466 0.002 0.008 -0.004
6561.481 0.003 0.009 -0.003
6561.497 0.004 0.010 -0.002
6561.512 0.004 0.010 -0.002
6561.528 0.005 0.011 -0.001
6561.543 0.006 0.012 0.000
6561.558 0.007 0.013 0.001
6561.573 0.007 0.013 0.001
6561.589 0.006 0.012 0.000
6561.604 0.007 0.013 0.001
6561.620 0.005 0.011 -0.001
6561.635 0.004 0.010 -0.002
6561.651 0.007 0.013 0.001
6561.666 0.010 0.016 0.004
6561.682 0.012 0.018 0.006
6561.697 0.015 0.021 0.009
6561.713 0.017 0.023 0.011
6561.728 0.019 0.025 0.013
6561.744 0.021 0.027 0.015
6561.759 0.023 0.029 0.017
6561.775 0.025 0.031 0.019
6561.790 0.027 0.033 0.021
6561.806 0.030 0.036 0.024
6561.821 0.032 0.039 0.026
6561.837 0.036 0.043 0.030
6561.852 0.040 0.047 0.034
6561.867 0.045 0.052 0.039
6561.883 0.055 0.062 0.049
6561.898 0.059 0.066 0.053
6563.716 0.048 0.053 0.042
6563.730 0.047 0.052 0.041
6563.750 0.046 0.051 0.040
6563.767 0.045 0.050 0.039
6563.784 0.043 0.047 0.039
6563.800 0.039 0.044 0.033
6563.815 0.035 0.040 0.028
6563.830 0.034 0.039 0.027
6563.845 0.033 0.040 0.025
6563.861 0.033 0.039 0.027
6563.876 0.035 0.040 0.032
6563.892 0.040 0.045 0.035
6563.907 0.044 0.050 0.037
6563.930 0.050 0.056 0.044
6563.954 0.053 0.058 0.047
6564.000 0.062 0.066 0.058
6564.030 0.060 0.063 0.057
6564.055 0.057 0.060 0.054
6564.077 0.054 0.056 0.051
6564.100 0.050 0.052 0.046
6564.124 0.044 0.046 0.039
6564.140 0.041 0.043 0.037
6564.155 0.038 0.041 0.035
6564.170 0.033 0.036 0.030
6564.185 0.028 0.030 0.025
6564.200 0.024 0.026 0.021
6564.216 0.020 0.023 0.018
6564.231 0.017 0.020 0.015
6564.247 0.015 0.017 0.013
6564.262 0.013 0.015 0.011
6564.278 0.011 0.012 0.009
6564.294 0.010 0.012 0.007
6564.309 0.009 0.012 0.006
6564.325 0.008 0.011 0.005
6564.340 0.007 0.010 0.004
6564.355 0.005 0.009 0.002
6564.371 0.004 0.008 0.001
6564.386 0.003 0.007 -0.001
6564.402 0.003 0.007 -0.002
6564.417 0.004 0.008 -0.001
6564.433 0.004 0.008 -0.001
6564.448 0.001 0.005 -0.003
6564.464 -0.001 0.004 -0.005
6564.480 -0.002 0.002 -0.006
6564.495 -0.003 0.002 -0.007
6564.511 -0.002 0.003 -0.006
6564.526 -0.001 0.005 -0.005
6564.541 -0.002 0.003 -0.006
6564.556 -0.002 0.002 -0.006
6564.572 -0.003 0.002 -0.007
6564.587 -0.004 0.002 -0.008
6564.603 -0.004 0.001 -0.008
6564.618 -0.004 0.002 -0.006
6564.634 -0.006 -0.002 -0.009
6564.649 -0.007 -0.004 -0.011
6564.665 -0.008 -0.005 -0.012
6564.680 -0.009 -0.005 -0.014
6564.696 -0.009 -0.005 -0.013
6564.711 -0.008 -0.004 -0.012
6564.727 -0.007 -0.003 -0.011
6564.742 -0.005 -0.001 -0.009
6564.758 -0.004 0.000 -0.007
6564.773 -0.002 0.001 -0.006
6564.789 -0.001 0.003 -0.005
6564.804 0.001 0.005 -0.004
6564.820 0.002 0.006 -0.002
6564.835 0.002 0.007 -0.002
6564.851 0.001 0.005 -0.003
6564.866 0.001 0.004 -0.004
6564.881 0.000 0.003 -0.004
6564.896 0.000 0.002 -0.004
6564.912 0.000 0.002 -0.002
6564.927 0.000 0.002 -0.002
6564.943 0.002 0.006 -0.001
6564.958 0.004 0.007 0.000
6564.974 0.004 0.007 0.000
6564.989 0.004 0.007 0.000
6565.005 0.005 0.009 0.002
6565.020 0.007 0.010 0.003
6565.036 0.007 0.010 0.004
6565.051 0.007 0.010 0.004
6565.067 0.006 0.009 0.003
6565.082 0.004 0.007 -0.001
6565.098 0.002 0.005 -0.001
6565.113 -0.002 0.002 -0.004
6565.129 0.005 0.008 0.003
6565.144 0.008 0.010 0.005
6565.160 0.008 0.011 0.006
6565.175 0.009 0.011 0.006
6565.190 0.010 0.012 0.007
6565.206 0.010 0.012 0.007
6565.221 0.011 0.013 0.009
6565.236 0.012 0.015 0.010
6565.252 0.015 0.017 0.013
6565.267 0.018 0.020 0.017
6565.283 0.023 0.024 0.022
6565.298 0.028 0.030 0.027
6565.314 0.031 0.032 0.030
6565.329 0.033 0.034 0.032
6565.345 0.036 0.037 0.035
6565.360 0.038 0.039 0.037
6565.376 0.041 0.041 0.042
6565.391 0.045 0.044 0.046
6565.407 0.049 0.047 0.050
6565.422 0.050 0.048 0.051
6565.438 0.051 0.049 0.052
6565.453 0.052 0.049 0.053
6565.469 0.054 0.051 0.055
6565.484 0.055 0.053 0.056
6565.500 0.053 0.051 0.055
6565.515 0.050 0.047 0.052
6565.530 0.049 0.046 0.051
6565.546 0.047 0.044 0.050
6565.561 0.047 0.044 0.049
6565.577 0.045 0.043 0.047
6565.592 0.040 0.039 0.041
6565.604 0.036 0.035 0.037
6565.614 0.033 0.032 0.034
6565.623 0.030 0.029 0.031
6565.632 0.028 0.028 0.028
6565.643 0.025 0.025 0.025
6565.654 0.023 0.023 0.022
6565.669 0.020 0.019 0.018
6565.685 0.018 0.018 0.017
6565.700 0.018 0.018 0.017
6565.716 0.017 0.016 0.018
6565.731 0.016 0.015 0.016
6565.747 0.016 0.014 0.017
6565.762 0.017 0.016 0.018
6565.778 0.016 0.013 0.019
6565.793 0.016 0.012 0.019
6565.808 0.020 0.016 0.024
6565.824 0.024 0.019 0.028
6565.840 0.026 0.021 0.030
6565.855 0.028 0.023 0.033
6565.871 0.029 0.024 0.034
6565.886 0.030 0.025 0.034
6565.902 0.028 0.024 0.032
6565.917 0.027 0.023 0.030
6565.935 0.024 0.021 0.027
6565.952 0.020 0.018 0.022
6565.970 0.014 0.013 0.015
6565.992 0.010 0.010 0.009
6566.010 0.012 0.013 0.010
6566.035 0.008 0.009 0.006
6566.060 0.008 0.010 0.006
6566.086 0.008 0.010 0.005
6566.111 0.006 0.008 0.003
6566.123 0.005 0.007 0.002
6566.148 0.006 0.008 0.003
6566.174 0.004 0.006 0.001
6566.199 0.0015 0.004 -0.002
6566.224 -0.001 0.001 -0.004
6566.249 -0.001 0.001 -0.004
6566.274 0.000 0.002 -0.003
6566.299 0.001 0.003 -0.002
6566.325 -0.001 0.001 -0.004
6566.350 0.002 0.004 -0.001
6566.375 -0.002 0.000 -0.005
6566.400 -0.003 -0.001 -0.006
6566.425 0.001 0.003 -0.002
6566.450 0.000 0.002 -0.003
6566.475 -0.004 -0.002 -0.007
6566.501 0.000 0.002 -0.003
6566.526 0.002 0.004 -0.001
6566.551 0.005 0.007 0.002
6566.576 0.0066 0.008 0.004
6566.601 0.011 0.012 0.009
6566.626 0.015 0.016 0.013
6566.652 0.020 0.021 0.018
6566.677 0.031 0.032 0.029
6566.702 0.024 0.025 0.022
6566.727 0.031 0.032 0.029
6566.752 0.029 0.030 0.027
6566.777 0.025 0.026 0.023
6566.803 0.027 0.028 0.025
6566.828 0.024 0.025 0.022
6566.853 0.020 0.021 0.018
6566.878 0.020 0.021 0.018
6566.903 0.021 0.022 0.019
6566.928 0.020 0.021 0.018
6566.953 0.019 0.020 0.017
6566.979 0.017 0.018 0.015
6567.004 0.013 0.014 0.011
6567.029 0.012 0.013 0.010
6567.054 0.013 0.014 0.011
6567.079 0.015 0.016 0.013
6567.104 0.005 0.006 0.003
6567.130 0.0066 0.008 0.005
6567.155 0.004 0.005 0.002
6567.180 0.000 0.001 -0.002
6567.205 0.006 0.007 0.004
6567.230 0.0066 0.008 0.005
6567.255 0.010 0.011 0.008
6567.281 0.013 0.014 0.011
6567.306 0.014 0.015 0.012
6567.331 0.018 0.019 0.016
6567.356 0.021 0.022 0.019
6567.381 0.025 0.026 0.023
6567.406 0.026 0.027 0.024
6567.431 0.026 0.027 0.024
6567.457 0.025 0.026 0.023
6567.482 0.024 0.025 0.022
6567.507 0.021 0.022 0.019
6567.532 0.017 0.018 0.015
6567.557 0.012 0.013 0.010
6567.582 0.012 0.013 0.010
6567.608 0.010 0.011 0.008
6567.633 0.012 0.013 0.010
6567.658 0.014 0.015 0.012
6567.683 0.010 0.011 0.008
6567.708 0.010 0.011 0.008
6567.733 0.008 0.009 0.006
6567.758 0.0066 0.008 0.005
6567.784 0.008 0.009 0.006
6567.809 0.005 0.006 0.003
6567.834 0.0095 0.011 0.008
6567.859 0.010 0.011 0.008
6567.884 0.008 0.009 0.006
6567.909 0.005 0.006 0.003
6567.935 0.003 0.004 0.001
6567.960 0.0015 0.003 0.000
6567.985 -0.001 0.000 -0.003
6568.010 0.000 0.001 -0.002
6568.035 -0.0015 0.000 -0.003
6568.060 0.000 0.001 -0.002
6568.086 -0.002 -0.001 -0.004
6568.111 0.005 0.006 0.003
6568.136 0.0068 0.008 0.005
6568.161 0.004 0.005 0.002
6568.186 0.010 0.011 0.008
6568.211 0.0066 0.008 0.005
6568.236 0.0036 0.005 0.002
6568.262 0.008 0.009 0.006
6568.287 0.010 0.011 0.008
6568.312 0.011 0.012 0.009
6568.337 0.0066 0.008 0.005
6568.362 0.012 0.013 0.010
6568.387 0.005 0.006 0.003
6568.413 0.0095 0.011 0.008
6568.438 0.005 0.006 0.003
6568.463 0.004 0.005 0.002
6568.488 0.0095 0.010 0.009
6568.513 0.0036 0.004 0.003
6568.538 0.006 0.006 0.006
6568.564 0.004 0.004 0.004
6568.589 0.005 0.005 0.005
6568.614 0.006 0.006 0.006
6568.639 0.008 0.007 0.009
6568.664 0.005 0.004 0.006
6568.689 0.002 0.001 0.003
6568.714 0.004 0.003 0.005
6568.740 0.006 0.005 0.007
6568.765 0.008 0.007 0.009
6568.790 0.008 0.007 0.009
6568.803 0.014 0.014 0.014
6568.815 0.017 0.017 0.017
6568.828 0.0197 0.0197 0.0197
6568.853 0.024 0.024 0.024
6568.878 0.031 0.031 0.031
6568.891 0.039 0.039 0.039
6568.916 0.045 0.045 0.045
6568.941 0.039 0.039 0.039
6568.966 0.0546 0.055 0.054
6569.004 0.045 0.045 0.046
6569.029 0.043 0.043 0.044
6569.054 0.034 0.034 0.035
6569.079 0.031 0.031 0.032
6569.104 0.029 0.029 0.030
6569.130 0.027 0.027 0.028
6569.155 0.026 0.026 0.027
6569.180 0.023 0.023 0.024
6569.205 0.024 0.024 0.025
6569.223 0.012 0.012 0.013
6569.243 0.009 0.009 0.010
6569.263 0.008 0.008 0.009
6569.281 -0.001 -0.001 0.000
6569.306 0.003 0.003 0.003
6569.331 0.0066 0.0066 0.0066
6569.351 0.010 0.010 0.010
6569.381 0.022 0.022 0.022
6569.406 0.025 0.025 0.025
6569.432 0.032 0.032 0.032
6569.457 0.031 0.031 0.031
6569.482 0.031 0.031 0.031
6569.494 0.029 0.029 0.029
}\resid

\pgfplotsset{
  base/.style={
    scale only axis, width=627pt,
    xmin=6555.7, xmax=6569.5,
    axis line style={draw=axgray, line width=0.6pt},
    tick style={draw=axgray, line width=0.6pt},
    major tick length=6pt,
    tick align=inside,
    xtick={6556,6558,6560,6562,6564,6566,6568},
    xtick pos=both, ytick pos=both,
    scaled x ticks=false, scaled y ticks=false,
    tick label style={font=\helv\fontsize{8.7}{10}\selectfont, text=axgray},
  },
  mline/.style={line width=0.7pt, dash pattern=on 5pt off 3pt, smooth, tension=0.3},
}

\begin{document}
\begin{tikzpicture}
\begin{axis}[base, at={(78.5pt,121.5pt)}, anchor=south west, height=263.5pt,
  ymin=0.6, ymax=1.05,
  ytick={0.6,0.65,0.7,0.75,0.8,0.85,0.9,0.95,1,1.05},
  yticklabels={0.6,0.65,0.7,0.75,0.8,0.85,0.9,0.95,1,1.05},
  xticklabels={}]
\addplot[fill=bandgray, draw=black, line width=0.8pt] coordinates {(6556.40,0.6) (6556.40,1.05) (6556.57,1.05) (6556.57,0.6)} --cycle;
\addplot[fill=bandgray, draw=black, line width=0.8pt] coordinates {(6559.17,0.6) (6559.17,1.05) (6559.28,1.05) (6559.28,0.6)} --cycle;
\addplot[fill=bandgray, draw=black, line width=0.8pt] coordinates {(6561.09,0.6) (6561.09,1.05) (6561.17,1.05) (6561.17,0.6)} --cycle;
\addplot[fill=bandgray, draw=black, line width=0.8pt] coordinates {(6566.23,0.6) (6566.23,1.05) (6566.38,1.05) (6566.38,0.6)} --cycle;
\addplot[fill=bandgray, draw=black, line width=0.8pt] coordinates {(6567.93,0.6) (6567.93,1.05) (6568.11,1.05) (6568.11,0.6)} --cycle;
\addplot[mblue, mline] table[x=x, y=b] {\models};
\addplot[mred, mline] table[x=x, y=r] {\models};
\addplot[mgreen, mline] table[x=x, y=g] {\models};
\addplot[black, only marks, mark=*, mark size=0.6pt, mark options={draw=none, fill=black}] table[x=x, y=y] {\obs};
\end{axis}

\begin{axis}[base, at={(78.5pt,41pt)}, anchor=south west, height=80.5pt,
  ymin=-0.06, ymax=0.06,
  ytick={-0.06,-0.04,-0.02,0,0.02,0.04},
  yticklabels={-0.06,-0.04,-0.02,0,0.02,0.04},
  xticklabels={6556,6558,6560,6562,6564,6566,6568}]
\addplot[black, line width=0.85pt, dash pattern=on 5.6pt off 3.5pt] coordinates {(6555.7,0) (6569.5,0)};
\addplot[mblue, only marks, mark=*, mark size=0.5pt, mark options={draw=none, fill=mblue}] table[x=x, y=b] {\resid};
\addplot[mred, only marks, mark=*, mark size=0.5pt, mark options={draw=none, fill=mred}] table[x=x, y=r] {\resid};
\addplot[mgreen, only marks, mark=*, mark size=0.5pt, mark options={draw=none, fill=mgreen}] table[x=x, y=g] {\resid};
\end{axis}

\node[rotate=90, font=\fontsize{12.5}{15}\selectfont, text=axgray] at (49.5pt,253.25pt) {Flux};
\node[rotate=90, font=\fontsize{12.5}{15}\selectfont, text=axgray] at (45.5pt,81.25pt) {Residual};
\node[font=\fontsize{12.5}{15}\selectfont, text=axgray] at (392pt,21pt) {Wavelength (Å)};
\pgfresetboundingbox
\path (0pt,0pt) rectangle (784pt,405pt);
\end{tikzpicture}
\end{document}
